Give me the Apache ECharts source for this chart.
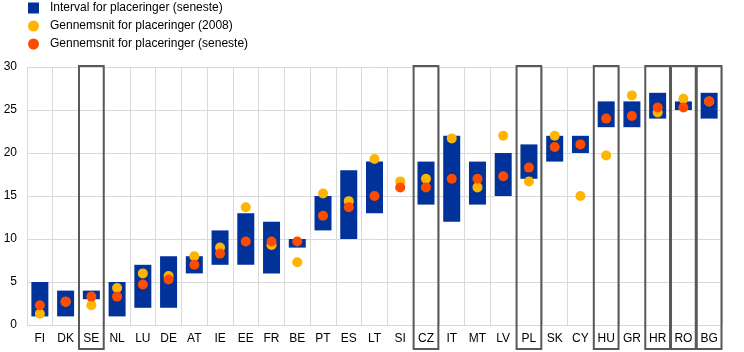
<!DOCTYPE html>
<html><head><meta charset="utf-8">
<script src="https://cdn.jsdelivr.net/npm/echarts@6/dist/echarts.min.js"></script>
<style>html,body{margin:0;padding:0;background:#fff}#c{width:744px;height:352px}</style>
</head><body><div id="c"></div>
<script>
const categories = ['FI','DK','SE','NL','LU','DE','AT','IE','EE','FR','BE','PT','ES','LT','SI','CZ','IT','MT','LV','PL','SK','CY','HU','GR','HR','RO','BG'];
const intervalLow  = [1,1,3,1,2,2,6,7,7,6,9,11,10,13,null,14,12,14,15,17,19,20,23,23,24,25,24];
const intervalHigh = [5,4,4,5,7,8,8,11,13,12,10,15,18,19,null,19,22,19,20,21,22,22,26,26,27,26,27];
const avg2008   = [1.3,2.7,2.3,4.3,6.0,5.7,8.0,9.0,13.7,9.3,7.3,15.3,14.4,19.3,16.7,17.0,21.7,16.0,22.0,16.7,22.0,15.0,19.7,26.7,24.7,26.3,26.0];
const avgLatest = [2.3,2.7,3.3,3.3,4.7,5.3,7.0,8.3,9.7,9.7,9.7,12.7,13.7,15.0,16.0,16.0,17.0,17.0,17.3,18.3,20.7,21.0,24.0,24.3,25.3,25.3,26.0];
const highlighted = ['SE','CZ','PL','HU','HR','RO','BG'];
const yTicks = [0,5,10,15,20,25,30];

const names = ['Interval for placeringer (seneste)','Gennemsnit for placeringer (2008)','Gennemsnit for placeringer (seneste)'];
const intervalSize = intervalHigh.map((h,i)=> (h==null||intervalLow[i]==null)?null:h-intervalLow[i]);
const font = 'Arial, "Liberation Sans", sans-serif';

const chart = echarts.init(document.getElementById('c'), null, {renderer:'canvas'});
chart.setOption({
  animation:false,
  legend:{
    orient:'vertical', left:28, top:2, padding:0, itemWidth:11, itemHeight:11, itemGap:6,
    data:[{name:names[0],icon:'rect'},{name:names[1],icon:'circle'},{name:names[2],icon:'circle'}],
    textStyle:{fontFamily:font,fontSize:12,color:'#000',padding:[0,0,0,6]}
  },
  grid:{left:27,right:22,top:67,bottom:27},
  xAxis:{
    type:'category', data:categories,
    axisLine:{show:false}, axisTick:{show:false},
    axisLabel:{interval:0,fontFamily:font,fontSize:12,color:'#000',margin:8},
    splitLine:{show:true,interval:0,lineStyle:{color:'#d9d9d9',width:1}}
  },
  yAxis:{
    type:'value', min:0, max:30, interval:5,
    axisLine:{show:false}, axisTick:{show:false},
    axisLabel:{fontFamily:font,fontSize:12,color:'#000',margin:10,formatter:v=>yTicks.includes(v)?String(v):''},
    splitLine:{lineStyle:{color:'#d9d9d9',width:1}}
  },
  series:[
    {name:'base',type:'bar',stack:'iv',data:intervalLow,barWidth:17,itemStyle:{color:'rgba(0,0,0,0)'},silent:true},
    {name:names[0],type:'bar',stack:'iv',data:intervalSize,barWidth:17,itemStyle:{color:'#003299'}},
    {name:names[1],type:'scatter',data:avg2008,symbolSize:10,itemStyle:{color:'#FFB400',opacity:1},z:3},
    {name:names[2],type:'scatter',data:avgLatest,symbolSize:10,itemStyle:{color:'#FF4B00',opacity:1},z:4},
    {name:'boxes',type:'custom',clip:false,z:5,silent:true,
     data:highlighted.map(c=>[categories.indexOf(c)]),
     renderItem:function(params,api){
       const idx=api.value(0);
       const top=api.coord([idx,30]);
       const bot=api.coord([idx,0]);
       const w=api.size([1,0])[0];
       return {type:'rect',shape:{x:top[0]-w/2+0.5,y:top[1]-1,width:w-1,height:bot[1]-top[1]+25},
         style:{fill:'none',stroke:'#595959',lineWidth:2}};
     }}
  ]
});
</script></body></html>
